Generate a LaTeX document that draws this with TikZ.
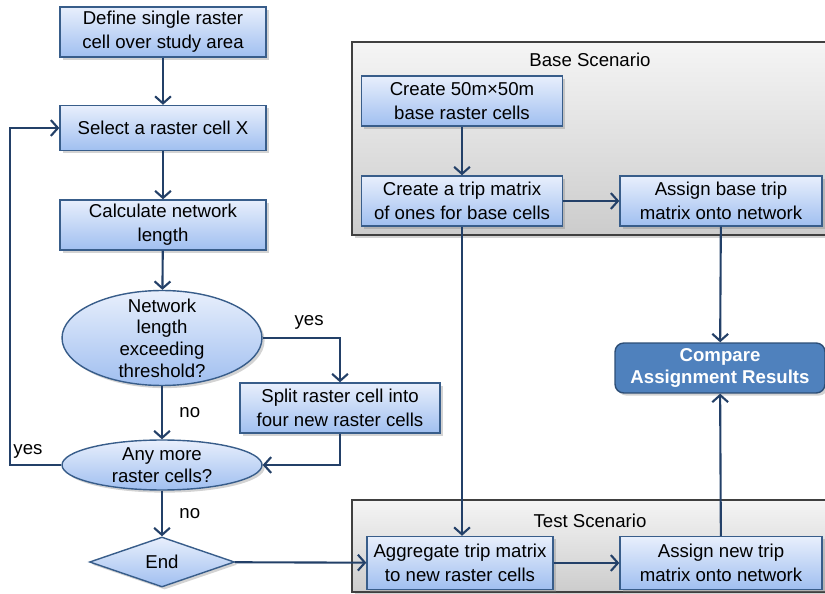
\documentclass[tikz,border=0pt]{standalone}
\usepackage{fontspec}
\setmainfont{Liberation Sans}
\usetikzlibrary{shapes.geometric,arrows.meta,shadows}

\definecolor{boxline}{RGB}{56,93,138}
\definecolor{boxtop}{RGB}{232,239,252}
\definecolor{boxbottom}{RGB}{160,191,240}
\definecolor{flowline}{RGB}{35,64,104}
\definecolor{comparefill}{RGB}{79,129,189}
\definecolor{comparelinecol}{RGB}{45,78,118}

\begin{document}
\begin{tikzpicture}[x=0.02cm,y=-0.02cm,
    font=\fontsize{10.6}{13.5}\selectfont,
    stepbox/.style={draw=boxline,line width=0.8pt,top color=boxtop,bottom color=boxbottom,
      align=center,minimum width=4.12cm,minimum height=1cm,inner sep=1pt,
      drop shadow={opacity=0.35,shadow xshift=1.5pt,shadow yshift=-1.5pt}},
    askbox/.style={stepbox,ellipse,minimum width=4cm,inner xsep=0pt,
      font=\fontsize{10.6}{12.3}\selectfont},
    scenario/.style={draw=black!75,line width=0.8pt,top color=black!4,bottom color=black!20,
      drop shadow={opacity=0.35,shadow xshift=1.5pt,shadow yshift=-1.5pt}},
    flow/.style={draw=flowline,line width=1.2pt,-{Straight Barb[length=4pt,width=9pt]}}]
  \useasboundingbox (0,0) rectangle (825,594);

  % scenario frames
  \node[scenario,minimum width=9.48cm,minimum height=3.86cm] (baseframe) at (589,138.5) {};
  \node (basetitle) at (590,60) {Base Scenario};
  \node[scenario,minimum width=9.48cm,minimum height=1.84cm] (testframe) at (589,546) {};
  \node (testtitle) at (590,521) {Test Scenario};

  % left flow chart
  \node[stepbox] (define) at (163,32) {Define single raster\\cell over study area};
  \node[stepbox,minimum height=0.9cm] (select) at (163,128) {Select a raster cell X};
  \node[stepbox] (calc) at (163,225) {Calculate network\\length};
  \node[askbox,minimum height=1.9cm,inner ysep=-6pt] (exceed) at (162,338)
    {Network\\length\\exceeding\\threshold?};
  \node[stepbox,minimum width=4cm] (split) at (340,408) {Split raster cell into\\four new raster cells};
  \node[askbox,minimum height=1cm,inner ysep=-4pt] (more) at (162,465) {Any more\\raster cells?};
  \node[stepbox,diamond,minimum width=2.9cm,minimum height=1cm,inner sep=0pt] (stop) at (162,562) {End};
  \coordinate (loop) at (10,465);

  % right side
  \node[stepbox,minimum width=4.02cm] (basecells) at (462,101) {Create 50m×50m\\base raster cells};
  \node[stepbox,minimum width=4.02cm] (tripone) at (462,201) {Create a trip matrix\\of ones for base cells};
  \node[stepbox,minimum width=4.04cm] (assignbase) at (721,201) {Assign base trip\\matrix onto network};
  \node[stepbox,rounded corners=5pt,fill=comparefill,top color=comparefill,bottom color=comparefill,
    draw=comparelinecol,text=white,font=\fontsize{10.6}{13}\selectfont\bfseries,minimum width=4.2cm]
    (compare) at (720,368) {Compare\\Assignment Results};
  \node[stepbox,minimum width=3.72cm,minimum height=1.06cm] (aggregate) at (460,563)
    {Aggregate trip matrix\\to new raster cells};
  \node[stepbox,minimum width=4.04cm,minimum height=1.06cm] (assignnew) at (721,563)
    {Assign new trip\\matrix onto network};

  % connectors
  \draw[flow] (define) -- (select);
  \draw[flow] (select) -- (calc);
  \draw[flow] (calc) -- (exceed);
  \draw[flow] (exceed.east) -| node[pos=0.3,above=1pt] {yes} (split.north);
  \draw[flow] (exceed) -- node[right=6pt] {no} (more);
  \draw[flow] (split.south) |- (more.east);
  \draw[flow] (more.west) -- node[above,pos=0.65] {yes} (loop) |- (select.west);
  \draw[flow] (more) -- node[right=6pt] {no} (stop);
  \draw[flow] (stop) -- (aggregate);
  \draw[flow] (basecells) -- (tripone);
  \draw[flow] (tripone) -- (assignbase);
  \draw[flow] (tripone.south) -- (tripone.south |- aggregate.north);
  \draw[flow] (assignbase) -- (compare);
  \draw[flow] (assignnew) -- (compare);
  \draw[flow] (aggregate) -- (assignnew);
\end{tikzpicture}
\end{document}
